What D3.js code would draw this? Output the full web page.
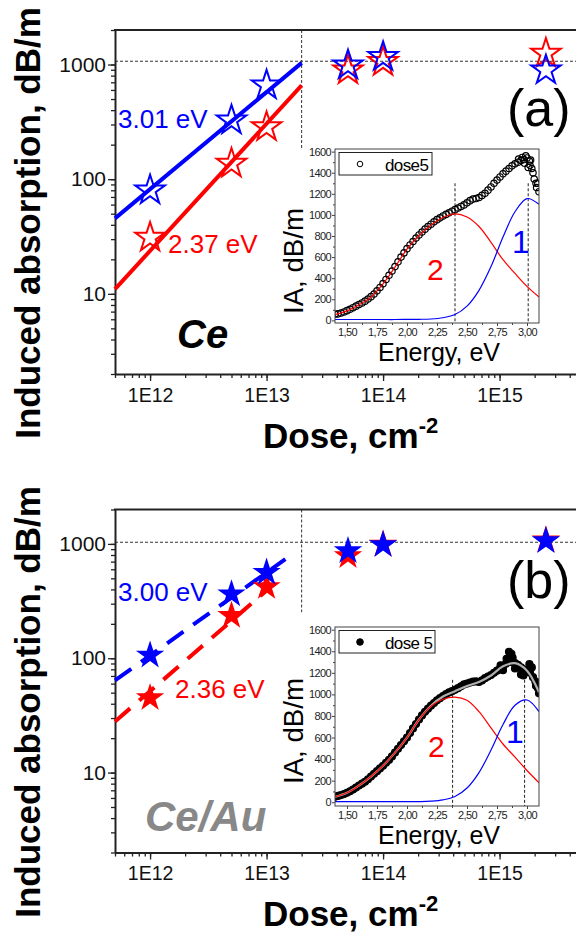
<!DOCTYPE html>
<html>
<head>
<meta charset="utf-8">
<script src="https://cdn.jsdelivr.net/npm/d3@7"></script>
<style>
  body { margin: 0; background: #fff; }
  svg { display: block; font-family: "Liberation Sans", Arial, sans-serif; }
</style>
</head>
<body>
<svg id="chart" width="576" height="932"></svg>
<script>
// ---- main panels: dose (cm^-2) vs induced absorption (dB/m)
const doses = [1e12, 5e12, 1e13, 5e13, 1e14, 2.5e15];
const ceBlue = [80, 326, 658, 986, 1165, 892];
const ceRed = [31, 137, 285, 892, 1054, 1247];
const ceAuBlue = [106, 364, 562, 869, 980, 1062];
const ceAuRed = [45, 236, 422, 786, 990, 1080];

// fitted power laws, end points
const ceFitDose = [5e11, 2e13];
const ceFitBlue = [45.5, 1033];
const ceFitRed = [11, 658];
const ceAuFitBlueDose = [5e11, 1.45e13];
const ceAuFitBlue = [64, 736];
const ceAuFitRedDose = [5e11, 1.4e13];
const ceAuFitRed = [28, 526];

// dotted guides
const guideDose = 2e13;
const ceGuideLevel = 1068;
const ceGuideBottom = 187;
const ceAuGuideLevel = 1034;
const ceAuGuideBottom = 253;

const xTicks = [1e12, 1e13, 1e14, 1e15];
const yTicks = [10, 100, 1000];

// ---- insets: IA spectrum at dose 5
const insetXTicks = [1.5, 1.75, 2.0, 2.25, 2.5, 2.75, 3.0];
const insetYTicks = [0, 200, 400, 600, 800, 1000, 1200, 1400, 1600];

const bandE = [1.4, 1.5, 1.6, 1.7, 1.8, 1.9, 2.0, 2.1, 2.2, 2.3, 2.4, 2.5, 2.6, 2.7, 2.8, 2.9, 3.0, 3.1];
const ceBand2 = [55, 90, 148, 222, 345, 505, 675, 805, 905, 975, 1010, 980, 890, 740, 575, 445, 322, 221];
const ceBand1 = [8, 8, 8, 8, 8, 8, 9, 10, 13, 25, 55, 135, 285, 510, 790, 1030, 1155, 1100];
const ceAuBand2 = [50, 88, 155, 238, 338, 460, 600, 767, 890, 955, 975, 945, 840, 690, 540, 418, 294, 180];
const ceAuBand1 = [5, 5, 5, 5, 5, 5, 5, 6, 10, 22, 53, 132, 275, 485, 720, 900, 948, 840];
const ceAuFitSum = [50, 88, 155, 238, 338, 460, 600, 767, 895, 980, 1030, 1078, 1115, 1175, 1260, 1290, 1220, 1020];

const specE = [
  1.400, 1.425, 1.450, 1.475, 1.500, 1.525, 1.550, 1.575, 1.600, 1.625,
  1.650, 1.675, 1.700, 1.725, 1.750, 1.775, 1.800, 1.825, 1.850, 1.875,
  1.900, 1.925, 1.950, 1.975, 2.000, 2.025, 2.050, 2.075, 2.100, 2.125,
  2.150, 2.175, 2.200, 2.225, 2.250, 2.275, 2.300, 2.325, 2.350, 2.375,
  2.400, 2.425, 2.450, 2.475, 2.500, 2.525, 2.550, 2.575, 2.600, 2.625,
  2.650, 2.675, 2.700, 2.725, 2.750, 2.775, 2.800, 2.825, 2.850, 2.875,
  2.900, 2.925, 2.950, 2.975, 3.000, 3.025, 3.050, 3.075, 3.100
];
const ceDose5 = [
  58, 62, 70, 80, 92, 105, 120, 135, 150, 165,
  182, 202, 225, 250, 280, 312, 348, 388, 428, 468,
  510, 555, 600, 640, 680, 715, 748, 780, 810, 838,
  865, 890, 912, 935, 955, 972, 990, 1005, 1020, 1035,
  1050, 1065, 1080, 1095, 1115, 1135, 1150, 1155, 1165, 1185,
  1205, 1235, 1265, 1300, 1330, 1360, 1390, 1415, 1440, 1465,
  1485, 1500, 1515, 1525, 1540, 1470, 1400, 1300, 1220
];
const ceAuDose5 = [
  50, 58, 66, 76, 88, 102, 118, 136, 155, 172,
  190, 213, 238, 263, 288, 313, 338, 365, 392, 425,
  460, 495, 530, 565, 600, 642, 684, 725, 767, 805,
  838, 868, 895, 920, 945, 965, 985, 1002, 1018, 1030,
  1042, 1058, 1075, 1092, 1100, 1110, 1118, 1120, 1115, 1130,
  1150, 1165, 1180, 1200, 1220, 1240, 1262, 1285, 1320, 1300,
  1290, 1275, 1250, 1230, 1215, 1200, 1160, 1080, 1010
];
const ceExtraE = [2.93, 2.96, 2.98, 2.99, 3.01, 3.02, 3.03, 3.04, 3.06, 3.08, 3.09];
const ceExtraIA = [1530, 1545, 1490, 1560, 1450, 1510, 1520, 1440, 1340, 1260, 1300];
const ceAuExtraE = [2.78, 2.80, 2.83, 2.85, 2.87, 2.88, 2.90, 2.95, 2.97, 3.02, 3.04, 3.07, 3.09];
const ceAuExtraIA = [1270, 1225, 1330, 1395, 1375, 1340, 1240, 1185, 1175, 1280, 1250, 1120, 1060];

const cePeakE = [2.40, 3.01];
const ceAuPeakE = [2.38, 2.98];
const cePeakTop = 1300;
const ceAuPeakTop = 1135;

const blue = "#0000ff";
const red = "#ff0000";
const zip = (a, b) => a.map((d, i) => [d, b[i]]);

const svg = d3.select("#chart");

const panels = [
  {
    id: "a", top: 30, bottom: 374,
    blue: ceBlue, red: ceRed, open: true,
    fitBlue: zip(ceFitDose, ceFitBlue), fitRed: zip(ceFitDose, ceFitRed), dash: null,
    guideLevel: ceGuideLevel, guideBottom: ceGuideBottom,
    labels: [
      { text: "3.01 eV", x: 118, y: 128, fill: blue },
      { text: "2.37 eV", x: 168, y: 253, fill: red },
    ],
    material: { text: "Ce", x: 177, y: 348, fill: "#000", size: 40 },
    tag: { text: "(a)", x: 507, y: 126 },
    titleY: 223, titleX: 448,
    inset: {
      top: 149, height: 174, yDomain: [-25, 1625],
      points: zip(specE, ceDose5).concat(zip(ceExtraE, ceExtraIA)), filled: false,
      band1: zip(bandE, ceBand1), band2: zip(bandE, ceBand2), fit: null,
      peaks: cePeakE, peakTop: cePeakTop, legend: "dose5",
      n2: { x: 427, y: 280 }, n1: { x: 512, y: 253 },
    },
  },
  {
    id: "b", top: 509.5, bottom: 852.5,
    blue: ceAuBlue, red: ceAuRed, open: false,
    fitBlue: zip(ceAuFitBlueDose, ceAuFitBlue), fitRed: zip(ceAuFitRedDose, ceAuFitRed), dash: "20,12",
    guideLevel: ceAuGuideLevel, guideBottom: ceAuGuideBottom,
    labels: [
      { text: "3.00 eV", x: 118, y: 601, fill: blue },
      { text: "2.36 eV", x: 175, y: 698, fill: red },
    ],
    material: { text: "Ce/Au", x: 145, y: 831, fill: "#888", size: 42 },
    tag: { text: "(b)", x: 507, y: 598 },
    titleY: 702, titleX: 926,
    inset: {
      top: 627, height: 179, yDomain: [-35, 1625],
      points: zip(specE, ceAuDose5).concat(zip(ceAuExtraE, ceAuExtraIA)), filled: true,
      band1: zip(bandE, ceAuBand1), band2: zip(bandE, ceAuBand2), fit: zip(bandE, ceAuFitSum),
      peaks: ceAuPeakE, peakTop: ceAuPeakTop, legend: "dose 5",
      n2: { x: 428, y: 757 }, n1: { x: 506, y: 743 },
    },
  },
];

const drawInset = (g, s) => {
  const left = 335, width = 204;
  const x = d3.scaleLinear().domain([1.4, 3.1]).range([left, left + width]);
  const y = d3.scaleLinear().domain(s.yDomain).range([s.top + s.height, s.top]);
  const clipId = "clip" + Math.round(s.top);

  g.append("clipPath").attr("id", clipId)
    .append("rect").attr("x", left).attr("y", s.top).attr("width", width).attr("height", s.height);
  g.append("rect")
    .attr("x", left).attr("y", s.top).attr("width", width).attr("height", s.height)
    .attr("fill", "#fff");

  const body = g.append("g").attr("clip-path", `url(#${clipId})`);

  body.selectAll("line.peak")
    .data(s.peaks)
    .join("line")
    .attr("class", "peak")
    .attr("x1", (d) => x(d)).attr("x2", (d) => x(d))
    .attr("y1", y(s.peakTop)).attr("y2", y(s.yDomain[0]))
    .attr("stroke", "#222").attr("stroke-width", 1).attr("stroke-dasharray", "3,2");

  body.selectAll("circle")
    .data(s.points)
    .join("circle")
    .attr("cx", (d) => x(d[0]))
    .attr("cy", (d) => y(d[1]))
    .attr("r", s.filled ? 3.5 : 3.2)
    .attr("fill", s.filled ? "#000" : "none")
    .attr("stroke", "#000")
    .attr("stroke-width", 1.2);

  const line = d3.line().x((d) => x(d[0])).y((d) => y(d[1])).curve(d3.curveCatmullRom);
  if (s.fit) {
    body.append("path").attr("d", line(s.fit))
      .attr("fill", "none").attr("stroke", "#b0b0b0").attr("stroke-width", 2.2);
  }
  body.append("path").attr("d", line(s.band2))
    .attr("fill", "none").attr("stroke", red).attr("stroke-width", 1.2);
  body.append("path").attr("d", line(s.band1))
    .attr("fill", "none").attr("stroke", blue).attr("stroke-width", 1.2);

  g.append("rect")
    .attr("x", left).attr("y", s.top).attr("width", width).attr("height", s.height)
    .attr("fill", "none").attr("stroke", "#444").attr("stroke-width", 1);

  // axes
  const fmt = (d) => d3.format(".2f")(d).replace(".", ",");
  const axes = g.append("g");
  axes.append("g")
    .attr("transform", `translate(0,${s.top + s.height})`)
    .call(d3.axisBottom(x).tickValues(d3.range(1.625, 3.1, 0.25)).tickSize(2).tickFormat(""));
  axes.append("g")
    .attr("transform", `translate(0,${s.top + s.height})`)
    .call(d3.axisBottom(x).tickValues(insetXTicks).tickSize(3).tickPadding(2).tickFormat(fmt));
  axes.append("g")
    .attr("transform", `translate(${left},0)`)
    .call(d3.axisLeft(y).tickValues(d3.range(100, 1600, 200)).tickSize(2).tickFormat(""));
  axes.append("g")
    .attr("transform", `translate(${left},0)`)
    .call(d3.axisLeft(y).tickValues(insetYTicks).tickSize(3).tickPadding(1).tickFormat(d3.format("d")));
  axes.selectAll(".domain").remove();
  axes.selectAll(".tick line").attr("stroke", "#444");
  axes.selectAll(".tick text")
    .attr("font-family", null).attr("font-size", 11).attr("letter-spacing", -0.6).attr("fill", "#222");

  // legend
  g.append("rect")
    .attr("x", 339).attr("y", s.top + 3.5).attr("width", s.filled ? 96 : 93).attr("height", 22.5)
    .attr("fill", "#fff").attr("stroke", "#222").attr("stroke-width", 1);
  g.append("circle")
    .attr("cx", 360).attr("cy", s.top + 15)
    .attr("r", s.filled ? 3.3 : 2.8)
    .attr("fill", s.filled ? "#000" : "none").attr("stroke", "#000");
  g.append("text")
    .attr("x", 385).attr("y", s.top + 21.5)
    .attr("font-size", 17).attr("letter-spacing", -0.6)
    .text(s.legend);

  // band numbers
  g.append("text").attr("x", s.n2.x).attr("y", s.n2.y)
    .attr("font-size", 30).attr("fill", red).text("2");
  g.append("text").attr("x", s.n1.x).attr("y", s.n1.y)
    .attr("font-size", 32).attr("fill", blue).text("1");

  // titles
  g.append("text")
    .attr("transform", `translate(303,${s.top + (s.filled ? 104 : 112)}) rotate(-90)`)
    .attr("text-anchor", "middle")
    .attr("font-size", 27)
    .attr("textLength", 106).attr("lengthAdjust", "spacingAndGlyphs")
    .text("IA, dB/m");
  g.append("text")
    .attr("x", 439).attr("y", s.top + s.height + 38)
    .attr("text-anchor", "middle")
    .attr("font-size", 25)
    .attr("textLength", 122).attr("lengthAdjust", "spacingAndGlyphs")
    .text("Energy, eV");
};

const drawPanel = (p) => {
  const g = svg.append("g").attr("id", "panel-" + p.id);
  const x = d3.scaleLog().domain([5e11, 5e15]).range([115, 581]);
  const y = d3.scaleLog().domain([2, 2000]).range([p.bottom, p.top]);

  // dotted guides
  g.append("line")
    .attr("x1", x(5e11)).attr("x2", x(5e15))
    .attr("y1", y(p.guideLevel)).attr("y2", y(p.guideLevel))
    .attr("stroke", "#333").attr("stroke-width", 1).attr("stroke-dasharray", "3,2");
  g.append("line")
    .attr("x1", x(guideDose)).attr("x2", x(guideDose))
    .attr("y1", p.top).attr("y2", y(p.guideBottom))
    .attr("stroke", "#333").attr("stroke-width", 1).attr("stroke-dasharray", "3,2");

  // axes
  const axes = g.append("g");
  axes.append("g")
    .attr("transform", `translate(0,${p.bottom})`)
    .call(d3.axisBottom(x).tickValues(x.ticks()).tickSize(4).tickFormat(""))
    .call((a) => a.select(".domain").remove());
  axes.append("g")
    .attr("transform", `translate(0,${p.bottom})`)
    .call(d3.axisBottom(x).tickValues(xTicks).tickSize(7).tickSizeOuter(0).tickPadding(7)
      .tickFormat((d) => "1E" + Math.round(Math.log10(d))))
    .call((a) => a.selectAll("text").attr("font-size", 19.5));
  axes.append("g")
    .attr("transform", `translate(115,0)`)
    .call(d3.axisLeft(y).tickValues(y.ticks()).tickSize(4).tickFormat(""))
    .call((a) => a.select(".domain").remove());
  axes.append("g")
    .attr("transform", `translate(115,0)`)
    .call(d3.axisLeft(y).tickValues(yTicks).tickSize(7).tickSizeOuter(0).tickPadding(2).tickFormat(d3.format("d")))
    .call((a) => a.selectAll("text").attr("font-size", 21));
  axes.selectAll(".domain").attr("stroke", "#222").attr("stroke-width", 2);
  axes.selectAll(".tick line").attr("stroke", "#222").attr("stroke-width", 1.3);
  axes.selectAll(".tick text").attr("font-family", null).attr("fill", "#111");
  g.append("line")
    .attr("x1", 114).attr("x2", 581).attr("y1", p.top).attr("y2", p.top)
    .attr("stroke", "#222").attr("stroke-width", 2);

  // fits
  const line = d3.line().x((d) => x(d[0])).y((d) => y(d[1]));
  [[p.fitRed, red], [p.fitBlue, blue]].forEach(([pts, c]) => {
    g.append("path").attr("d", line(pts))
      .attr("fill", "none").attr("stroke", c).attr("stroke-width", 4)
      .attr("stroke-dasharray", p.dash);
  });

  // stars
  const star = d3.symbol(d3.symbolStar).size(p.open ? 270 : 250);
  [[p.red, red], [p.blue, blue]].forEach(([vals, c]) => {
    g.append("g").selectAll("path")
      .data(zip(doses, vals))
      .join("path")
      .attr("transform", (d) => `translate(${x(d[0])},${y(d[1])})`)
      .attr("d", star)
      .attr("fill", p.open ? "none" : c)
      .attr("stroke", p.open ? c : "none")
      .attr("stroke-width", 2);
  });

  p.labels.forEach((l) => {
    g.append("text").attr("x", l.x).attr("y", l.y)
      .attr("font-size", 26).attr("fill", l.fill).text(l.text);
  });
  g.append("text").attr("x", p.material.x).attr("y", p.material.y)
    .attr("font-size", p.material.size).attr("font-weight", "bold").attr("font-style", "italic")
    .attr("fill", p.material.fill).text(p.material.text);
  g.append("text").attr("x", p.tag.x).attr("y", p.tag.y)
    .attr("font-size", 52).text(p.tag.text);

  // axis titles
  g.append("text")
    .attr("transform", `translate(40,${p.titleY}) rotate(-90)`)
    .attr("text-anchor", "middle")
    .attr("font-size", 35).attr("font-weight", "bold")
    .text("Induced absorption, dB/m");
  const xt = g.append("text")
    .attr("x", 263).attr("y", p.titleX)
    .attr("font-size", 35).attr("font-weight", "bold");
  xt.append("tspan").text("Dose, cm");
  xt.append("tspan").attr("font-size", 22).attr("dy", -15).text("-2");

  drawInset(g, p.inset);
};

panels.forEach(drawPanel);
</script>
</body>
</html>
